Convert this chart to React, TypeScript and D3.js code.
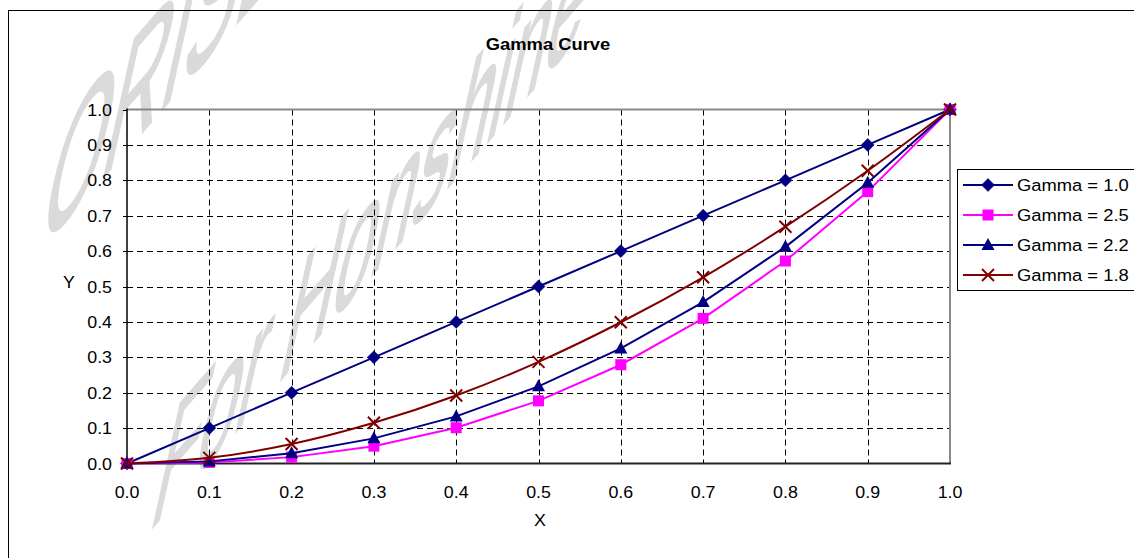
import React from "react";
import * as d3 from "d3";

const xValues = [0, 0.1, 0.2, 0.3, 0.4, 0.5, 0.6, 0.7, 0.8, 0.9, 1.0];
const gamma10 = [0, 0.1, 0.2, 0.3, 0.4, 0.5, 0.6, 0.7, 0.8, 0.9, 1.0];
const gamma25 = [0, 0.003, 0.018, 0.049, 0.101, 0.177, 0.279, 0.41, 0.572, 0.768, 1.0];
const gamma22 = [0, 0.006, 0.029, 0.071, 0.133, 0.218, 0.325, 0.456, 0.612, 0.793, 1.0];
const gamma18 = [0, 0.016, 0.055, 0.115, 0.192, 0.287, 0.399, 0.526, 0.669, 0.827, 1.0];
const xTicks = [0, 0.1, 0.2, 0.3, 0.4, 0.5, 0.6, 0.7, 0.8, 0.9, 1.0];
const yTicks = [0, 0.1, 0.2, 0.3, 0.4, 0.5, 0.6, 0.7, 0.8, 0.9, 1.0];
const seriesNames = ["Gamma = 1.0", "Gamma = 2.5", "Gamma = 2.2", "Gamma = 1.8"];

const FONT = "'Liberation Sans', Arial, sans-serif";
const SX = 1.08;

type Marker = "diamond" | "square" | "triangle" | "x";
const series: { name: string; values: number[]; color: string; marker: Marker; smooth: boolean }[] = [
  { name: seriesNames[0], values: gamma10, color: "#000080", marker: "diamond", smooth: false },
  { name: seriesNames[1], values: gamma25, color: "#FF00FF", marker: "square", smooth: false },
  { name: seriesNames[2], values: gamma22, color: "#000080", marker: "triangle", smooth: false },
  { name: seriesNames[3], values: gamma18, color: "#800000", marker: "x", smooth: true },
];

function MarkerShape({ type, x, y, color }: { type: Marker; x: number; y: number; color: string }) {
  if (type === "diamond") {
    const s = 6.5;
    return <path d={`M${x},${y - s}L${x + s},${y}L${x},${y + s}L${x - s},${y}Z`} fill={color} stroke={color} strokeWidth={0.5} />;
  }
  if (type === "square") {
    const s = 5.5;
    return <rect x={x - s} y={y - s} width={2 * s} height={2 * s} fill={color} />;
  }
  if (type === "triangle") {
    return <path d={`M${x},${y - 7}L${x + 6.5},${y + 5}L${x - 6.5},${y + 5}Z`} fill={color} />;
  }
  const s = 6;
  return (
    <g stroke={color} strokeWidth={2}>
      <line x1={x - s} y1={y - s} x2={x + s} y2={y + s} />
      <line x1={x - s} y1={y + s} x2={x + s} y2={y - s} />
    </g>
  );
}

function SText({ x, y, children, anchor = "middle", size = 16.5, weight = "normal" }: any) {
  return (
    <text
      transform={`translate(${x},${y}) scale(${SX},1)`}
      textAnchor={anchor}
      fontFamily={FONT}
      fontSize={size}
      fontWeight={weight}
      fill="#000"
    >
      {children}
    </text>
  );
}

export default function App() {
  const W = 1134;
  const H = 558;
  const x = d3.scaleLinear().domain([0, 1]).range([127, 950]);
  const y = d3.scaleLinear().domain([0, 1]).range([463.5, 109.5]);

  // watermark affine (baseline rising, letters tall and slanted)
  const wa = 1;
  const wb = -1.15;
  const wc = -0.55;
  const wd = 2.5;

  const legendX = 957;
  const legendY = 169;
  const legendRow = 30;

  return (
    <svg width={W} height={H} style={{ position: "absolute", left: 0, top: 0 }}>
      <rect x={0} y={0} width={W} height={H} fill="#fff" />
      {/* watermark */}
      <g fill="#dadada" stroke="#dadada" strokeWidth={1.2} fontFamily={FONT}>
        <text transform={`matrix(${wa},${wb},${wc},${wd},35,256)`} fontSize={80}>ORISE</text>
        <text transform={`matrix(${wa},${wb},${wc},${wd},147,534)`} fontSize={72}>For Honshine</text>
      </g>
      {/* outer border */}
      <rect x={8.5} y={10.5} width={1300} height={700} fill="none" stroke="#000" strokeWidth={1} />

      {/* title */}
      <SText x={548} y={50} size={17} weight="bold">Gamma Curve</SText>

      {/* gridlines */}
      <g stroke="#000" strokeWidth={1} strokeDasharray="6,4">
        {yTicks.slice(1, -1).map((t) => (
          <line key={"gy" + t} x1={x(0)} x2={x(1)} y1={Math.round(y(t)) + 0.5} y2={Math.round(y(t)) + 0.5} />
        ))}
        {xTicks.slice(1, -1).map((t) => (
          <line key={"gx" + t} x1={Math.round(x(t)) + 0.5} x2={Math.round(x(t)) + 0.5} y1={y(1)} y2={y(0)} />
        ))}
      </g>
      {/* plot frame */}
      <line x1={x(0)} x2={x(1)} y1={y(1)} y2={y(1)} stroke="#888" strokeWidth={2} />
      <line x1={x(1)} x2={x(1)} y1={y(1)} y2={y(0)} stroke="#888" strokeWidth={2} />
      <line x1={x(0)} x2={x(1) + 1} y1={y(0)} y2={y(0)} stroke="#222" strokeWidth={2} />
      <line x1={x(0)} x2={x(0)} y1={y(1) - 1} y2={y(0)} stroke="#000" strokeWidth={1.5} />
      {/* y ticks */}
      <g stroke="#000" strokeWidth={1}>
        {yTicks.map((t) => (
          <line key={"ty" + t} x1={x(0) - 4} x2={x(0)} y1={Math.round(y(t)) + 0.5} y2={Math.round(y(t)) + 0.5} />
        ))}
      </g>
      {/* tick labels */}
      {yTicks.map((t) => (
        <SText key={"ly" + t} x={112} y={y(t) + 6} anchor="end">{t.toFixed(1)}</SText>
      ))}
      {xTicks.map((t) => (
        <SText key={"lx" + t} x={x(t)} y={498}>{t.toFixed(1)}</SText>
      ))}
      <SText x={69} y={288}>Y</SText>
      <SText x={540} y={526}>X</SText>

      {/* series */}
      {series.map((s) => {
        const line = d3
          .line<number>()
          .x((_, i) => x(xValues[i]))
          .y((v) => y(v))
          .curve(s.smooth ? d3.curveCatmullRom.alpha(0) : d3.curveLinear);
        return (
          <g key={s.name}>
            <path d={line(s.values) || ""} fill="none" stroke={s.color} strokeWidth={2} />
            {s.values.map((v, i) => (
              <MarkerShape key={i} type={s.marker} x={x(xValues[i])} y={y(v)} color={s.color} />
            ))}
          </g>
        );
      })}

      {/* legend */}
      <rect x={legendX + 0.5} y={legendY + 0.5} width={300} height={121} fill="#fff" stroke="#000" strokeWidth={1} />
      {series.map((s, i) => {
        const cy = legendY + 16 + i * legendRow;
        return (
          <g key={"lg" + s.name}>
            <line x1={963} x2={1013} y1={cy} y2={cy} stroke={s.color} strokeWidth={2} />
            <MarkerShape type={s.marker} x={988} y={cy} color={s.color} />
            <SText x={1017} y={cy + 6} anchor="start" size={17}>{s.name}</SText>
          </g>
        );
      })}
    </svg>
  );
}
